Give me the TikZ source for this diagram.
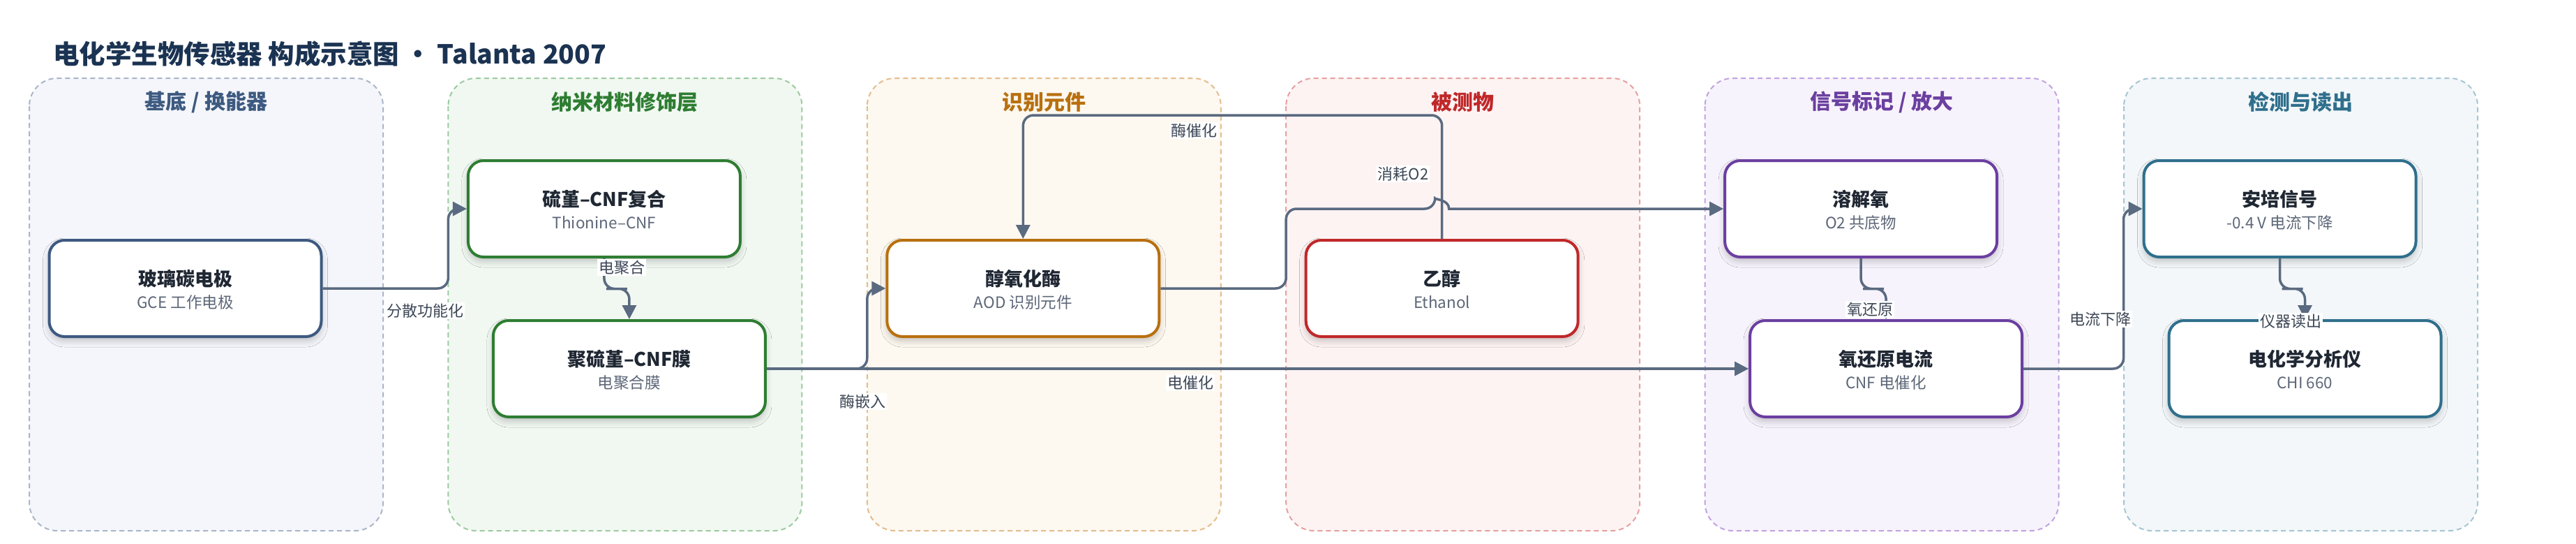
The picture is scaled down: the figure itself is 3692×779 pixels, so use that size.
\documentclass[tikz,border=0pt]{standalone}
\usepackage{fontspec}
\setmainfont{Noto Sans CJK SC}
\usetikzlibrary{arrows.meta,shadows.blur}
\definecolor{titleC}{HTML}{1B3352}
\definecolor{lineC}{HTML}{5A6A80}
\definecolor{labelC}{HTML}{3D4756}
\definecolor{boxtitleC}{HTML}{1F2733}
\definecolor{boxsubC}{HTML}{5D6778}
\definecolor{aC}{HTML}{3D5A80}\definecolor{aF}{HTML}{F5F6FB}\definecolor{aD}{HTML}{AAB6C8}
\definecolor{bC}{HTML}{2E7D32}\definecolor{bF}{HTML}{F1F8F2}\definecolor{bD}{HTML}{9CCBA0}
\definecolor{cC}{HTML}{B8700F}\definecolor{cF}{HTML}{FDF8F0}\definecolor{cD}{HTML}{E3BD8D}
\definecolor{dC}{HTML}{C0282A}\definecolor{dF}{HTML}{FDF3F3}\definecolor{dD}{HTML}{E6A0A0}
\definecolor{eC}{HTML}{6B3FA0}\definecolor{eF}{HTML}{F7F3FC}\definecolor{eD}{HTML}{C1A3E0}
\definecolor{fC}{HTML}{2F6F8C}\definecolor{fF}{HTML}{F3F7F9}\definecolor{fD}{HTML}{A5C5D3}
\newcommand\sensorpanel[6]{%
  \draw[panelframe, draw=#2, fill=#3] (#1,112) rectangle ++(507,648);
  \node[paneltitle, text=#4] (#6) at ({#1+253.5},146) {#5};
}
\newcommand\sensorbox[6]{%
  \node[sbox, draw=#4] (#1) at (#2,#3) {};
  \node[stitle] (#1-t) at ({#2},{#3-14}) {#5};
  \node[ssub] (#1-s) at ({#2},{#3+20}) {#6};
}
\begin{document}
\begin{tikzpicture}[x=1pt,y=-1pt,
  panelframe/.style={line width=2pt, dash pattern=on 7pt off 5pt, rounded corners=40pt},
  paneltitle/.style={font={\fontsize{30}{34}\selectfont\bfseries}, inner sep=0pt},
  sbox/.style={rectangle, rounded corners=22pt, line width=4pt, fill=white,
    minimum width=390pt, minimum height=138pt, inner sep=0pt,
    blur shadow={shadow xshift=0pt, shadow yshift=-6pt, shadow blur radius=9pt, shadow opacity=22}},
  stitle/.style={font={\fontsize{27}{32}\selectfont\bfseries}, text=boxtitleC, inner sep=0pt},
  ssub/.style={font={\fontsize{22.5}{26}\selectfont}, text=boxsubC, inner sep=0pt},
  conn/.style={draw=lineC, line width=3.5pt, rounded corners=15pt,
    -{Triangle[length=20pt,width=20pt]}},
  elabel/.style={fill=white, text=labelC, font={\fontsize{22}{25}\selectfont}, inner sep=2pt}
]
\useasboundingbox (0,0) rectangle (3692,779);
\fill[white] (0,0) rectangle (3692,779);

\node[anchor=west, font={\fontsize{37.5}{44}\selectfont\bfseries}, text=titleC, inner sep=0pt]
  (title) at (76,77) {电化学生物传感器 构成示意图 · Talanta 2007};

\sensorpanel{42}{aD}{aF}{aC}{基底 / 换能器}{p1}
\sensorpanel{642.4}{bD}{bF}{bC}{纳米材料修饰层}{p2}
\sensorpanel{1242.8}{cD}{cF}{cC}{识别元件}{p3}
\sensorpanel{1843.2}{dD}{dF}{dC}{被测物}{p4}
\sensorpanel{2443.6}{eD}{eF}{eC}{信号标记 / 放大}{p5}
\sensorpanel{3044}{fD}{fF}{fC}{检测与读出}{p6}

\sensorbox{glass}{265.5}{413}{aC}{玻璃碳电极}{GCE 工作电极}
\sensorbox{thio}{865.9}{299}{bC}{硫堇–CNF复合}{Thionine–CNF}
\sensorbox{poly}{901.9}{528}{bC}{聚硫堇–CNF膜}{电聚合膜}
\sensorbox{aod}{1466.3}{413}{cC}{醇氧化酶}{AOD 识别元件}
\sensorbox{eth}{2066.7}{413}{dC}{乙醇}{Ethanol}
\sensorbox{o2}{2667.1}{299}{eC}{溶解氧}{O2 共底物}
\sensorbox{orr}{2703.1}{528}{eC}{氧还原电流}{CNF 电催化}
\sensorbox{amp}{3267.5}{299}{fC}{安培信号}{-0.4 V 电流下降}
\sensorbox{chi}{3303.5}{528}{fC}{电化学分析仪}{CHI 660}

% connectors
\draw[conn] (glass.east) -- (642.4,413) |- (thio.west);
\draw[conn] (thio.south) |- (883.9,413.5) -| (poly.north);
\draw[conn] (poly.east) -- (1242.8,528) |- (aod.west);
\draw[conn] (aod.east) -- (1843.2,413) |- (2056.7,299)
  [sharp corners] .. controls (2056.7,285.7) and (2076.7,285.7) .. (2076.7,299) -- (o2.west);
\draw[conn] (eth.north) -- ++(0,-177) -| (aod.north);
\draw[conn] (poly.east) -- (orr.west);
\draw[conn] (o2.south) |- (2685.1,413.5) -| (orr.north);
\draw[conn] (orr.east) -- (3043.5,528) |- (amp.west);
\draw[conn] (amp.south) |- (3285.5,413.5) -| (chi.north);

% labels
\node[elabel] (l1) at (609,445) {分散功能化};
\node[elabel] (l2) at (891,383) {电聚合};
\node[elabel] (l3) at (1236,575) {酶嵌入};
\node[elabel] (l4) at (2011,249) {消耗O2};
\node[elabel] (l5) at (1711,187) {酶催化};
\node[elabel] (l6) at (1706,548) {电催化};
\node[elabel] (l7) at (2680,443) {氧还原};
\node[elabel] (l8) at (3010,457) {电流下降};
\node[elabel] (l9) at (3283,460) {仪器读出};
\end{tikzpicture}
\end{document}
